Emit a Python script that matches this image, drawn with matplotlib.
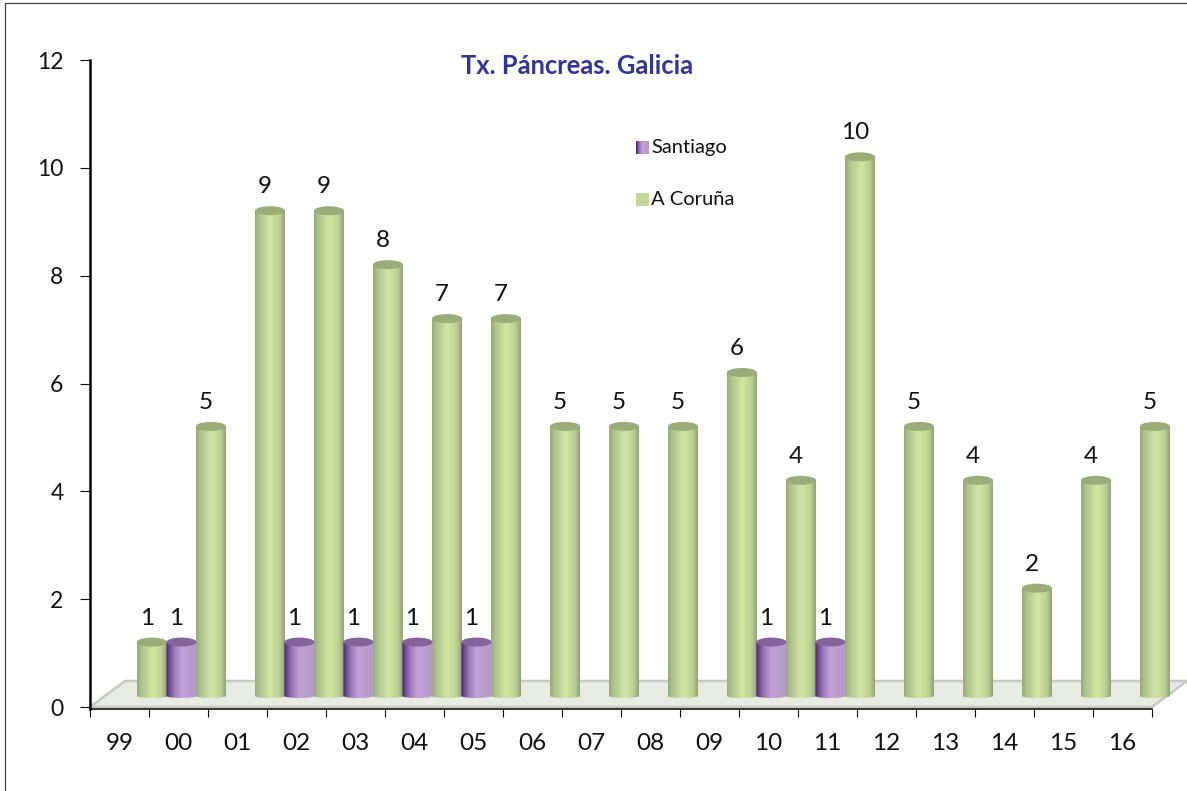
import numpy as np
import matplotlib
matplotlib.use('Agg')
import matplotlib.pyplot as plt
from matplotlib.colors import LinearSegmentedColormap
from matplotlib.patches import Ellipse, PathPatch, Polygon, Rectangle, Patch
from matplotlib.path import Path
from matplotlib.legend_handler import HandlerBase

years = ['99', '00', '01', '02', '03', '04', '05', '06', '07', '08', '09',
         '10', '11', '12', '13', '14', '15', '16']
coruna = [1, 5, 9, 9, 8, 7, 7, 5, 5, 5, 6, 4, 10, 5, 4, 2, 4, 5]
santiago = [0, 1, 0, 1, 1, 1, 1, 0, 0, 0, 0, 1, 1, 0, 0, 0, 0, 0]
title = 'Tx. Páncreas. Galicia'

W, H = 1187, 791
plt.rcParams['font.family'] = ['Lato', 'DejaVu Sans']
fig = plt.figure(figsize=(W / 100, H / 100), dpi=100)
L, R, T, B = 90, 1152, 60, 709
ax = fig.add_axes([L / W, 1 - B / H, (R - L) / W, (B - T) / H])
ax.set_xlim(-0.5, 17.5)
ax.set_ylim(-2 / 53.92, 12)

green_cm = LinearSegmentedColormap.from_list('g', [(0, '#98ab78'), (0.14, '#afc28c'), (0.5, '#d2e7a4'),
                                                  (0.8, '#bdd093'), (1, '#8a9a72')])
purple_cm = LinearSegmentedColormap.from_list('p', [(0, '#4a2a70'), (0.25, '#9a78b8'), (0.5, '#c2a2d8'),
                                                   (1, '#b498c8')])
grad = np.linspace(0, 1, 64)[None, :]

# floor
DX, DY = 35 / 59, 26 / 53.92
ax.add_patch(Polygon([(-0.5, 0), (17.5, 0), (17.5 + DX, DY), (-0.5 + DX, DY)], closed=True,
                     facecolor='#e7ebe1', edgecolor='#c8c9c5', lw=1.8, clip_on=False, zorder=1))

BASE = 11 / 53.92      # depth of the bars above the axis floor
WID = 0.51
EH = 9 / 53.92
BOT = 2 / 53.92


def cylinder(xc, v, cmap, top):
    y0, y1 = BASE, BASE + v
    x0, x1 = xc - WID / 2, xc + WID / 2
    k = 0.5523
    ry = BOT
    rx = WID / 2
    verts = [(x0, y1), (x0, y0), (x0, y0 - ry * k), (xc - rx * k, y0 - ry), (xc, y0 - ry),
             (xc + rx * k, y0 - ry), (x1, y0 - ry * k), (x1, y0), (x1, y1), (x0, y1)]
    codes = [Path.MOVETO, Path.LINETO, Path.CURVE4, Path.CURVE4, Path.CURVE4,
             Path.CURVE4, Path.CURVE4, Path.CURVE4, Path.LINETO, Path.CLOSEPOLY]
    clip = PathPatch(Path(verts, codes), transform=ax.transData, fc='none', ec='none', clip_on=False)
    ax.add_patch(clip)
    im = ax.imshow(grad, extent=(x0, x1, y0 - ry, y1), cmap=cmap, aspect='auto', zorder=3,
                   interpolation='bilinear')
    im.set_clip_box(fig.bbox)
    im.set_clip_path(clip)
    ax.add_patch(Ellipse((xc, y1), WID, EH, facecolor=top, edgecolor='none', zorder=3.1, clip_on=False))


for i, v in enumerate(coruna):
    cylinder(i + 0.55, v, green_cm, '#9aac78')
    ax.text(i + 0.55 - 5 / 59, v + BASE + 24 / 53.92, str(v), ha='center', va='center',
            fontsize=17.5, color='#111111', zorder=5)
for i, v in enumerate(santiago):
    if v:
        cylinder(i + 0.05, v, purple_cm, '#84649a')
        ax.text(i + 0.05 - 5 / 59, v + BASE + 24 / 53.92, str(v), ha='center', va='center',
                fontsize=17.5, color='#111111', zorder=5)

ax.set_xlim(-0.5, 17.5)
ax.set_ylim(-2 / 53.92, 12)

for s in ('top', 'right'):
    ax.spines[s].set_visible(False)
ax.spines['left'].set_linewidth(1.8)
ax.spines['bottom'].set_linewidth(1.1)
ax.set_yticks(range(0, 13, 2))
ax.set_xticks(np.arange(-0.5, 18, 1))
ax.set_xticklabels([])
ax.tick_params(axis='y', length=7, width=0.8, labelsize=16.5, pad=12, colors='#111111')
ax.tick_params(axis='x', length=5.5, width=0.8, colors='#111111')
for i, y in enumerate(years):
    ax.annotate(y, (i, 0), xycoords=('data', 'axes fraction'), xytext=(0, -35 / 100 * 72),
                textcoords='offset points', ha='center', va='center', fontsize=17.5, color='#111111')

fig.text(577 / W, 1 - 66 / H, title, ha='center', va='center', fontsize=18.4, fontweight='bold',
         color='#333399')

SIDE = 13 * 0.72


class GradHandler(HandlerBase):
    def create_artists(self, legend, orig, xd, yd, w, h, fs, trans):
        out = []
        n = 13
        for j in range(n):
            c = purple_cm(j / (n - 1))
            out.append(Rectangle((j * SIDE / n, -0.5), SIDE / n + 0.2, SIDE, fc=c, ec='none', transform=trans))
        return out


class FlatHandler(HandlerBase):
    def create_artists(self, legend, orig, xd, yd, w, h, fs, trans):
        return [Rectangle((0, -0.5), SIDE, SIDE, fc=orig.get_facecolor(), ec='none', transform=trans)]


h1 = Patch(label='Santiago')
h2 = Patch(facecolor='#c4d79b', label='A Coruña')
leg = fig.legend(handles=[h1, h2], handler_map={h1: GradHandler(), h2: FlatHandler()},
                 loc='upper left', bbox_to_anchor=(632 / W, 1 - 135 / H), frameon=False,
                 fontsize=14.5, labelspacing=1.72, handlelength=0.68, handletextpad=0.08,
                 borderpad=0.2, borderaxespad=0, labelcolor='#111111')

# outer chart-area frame
fig.add_artist(Rectangle((5 / W, -0.1), (W + 10) / W, 1 + 0.1 - 3.5 / H, transform=fig.transFigure,
                         fc='none', ec='#444444', lw=0.9))

fig.savefig('out.png', dpi=100)
